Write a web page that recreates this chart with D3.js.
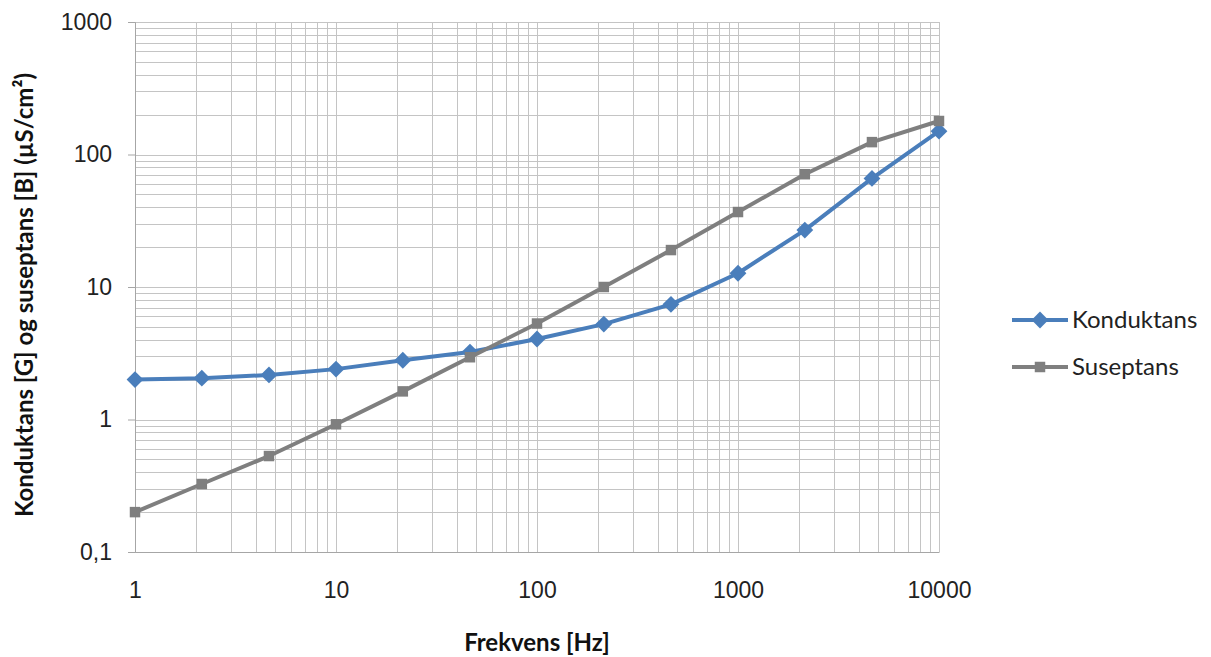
<!DOCTYPE html>
<html>
<head>
  <meta charset="utf-8">
  <title>Konduktans og suseptans</title>
  <script src="https://d3js.org/d3.v7.min.js"></script>
  <style>
    body { margin: 0; background: #fff; font-family: Lato, "Open Sans", sans-serif; }
    .grid line { stroke: #c4c4c4; stroke-width: 1; shape-rendering: crispEdges; }
    .tick text { fill: #222; font-size: 23px; }
    .axis-title { font-weight: bold; font-size: 24px; fill: #111; }
    .legend text { font-size: 24px; fill: #222; }
  </style>
</head>
<body>
  <svg id="chart" width="1211" height="657"></svg>

  <script>
    // frequencies in Hz (1/3 decade steps)
    const freq = [1, 2.15, 4.64, 10, 21.5, 46.4, 100, 215, 464, 1000, 2150, 4640, 10000];
    const konduktans = [2.0, 2.05, 2.17, 2.4, 2.8, 3.23, 4.05, 5.25, 7.4, 12.7, 26.9, 66, 150];
    const suseptans = [0.2, 0.326, 0.53, 0.92, 1.63, 2.95, 5.3, 10, 19, 36.8, 71, 124, 179];
    const xTicks = [1, 10, 100, 1000, 10000];
    const yTicks = [0.1, 1, 10, 100, 1000];
    const yTickLabels = ["0,1", "1", "10", "100", "1000"];

    const series = [
      { name: "Konduktans", values: konduktans, color: "#4a7ebb", marker: "diamond" },
      { name: "Suseptans", values: suseptans, color: "#7f7f7f", marker: "square" }
    ];

    const svg = d3.select("#chart");
    const margin = { left: 135, top: 22, right: 272, bottom: 105 };
    const width = 1211 - margin.left - margin.right;
    const height = 657 - margin.top - margin.bottom;

    const x = d3.scaleLog().domain([1, 10000]).range([0, width]);
    const y = d3.scaleLog().domain([0.1, 1000]).range([height, 0]);

    const g = svg.append("g").attr("transform", `translate(${margin.left},${margin.top})`);

    // all gridlines, major and minor
    const minor = (lo, hi) => {
      const out = [];
      for (let d = lo; d < hi; d *= 10) for (let k = 1; k <= 10; k++) out.push(d * k);
      return Array.from(new Set(out.map(v => +v.toPrecision(6))));
    };

    const grid = g.append("g").attr("class", "grid");
    grid.selectAll("line.v")
      .data(minor(1, 10000))
      .join("line")
      .attr("x1", d => Math.round(x(d)) + 0.5).attr("x2", d => Math.round(x(d)) + 0.5)
      .attr("y1", 0).attr("y2", height);
    grid.selectAll("line.h")
      .data(minor(0.1, 1000))
      .join("line")
      .attr("x1", 0).attr("x2", width)
      .attr("y1", d => Math.round(y(d)) + 0.5).attr("y2", d => Math.round(y(d)) + 0.5);

    // axes
    const yAxis = g.append("g")
      .call(d3.axisLeft(y).tickValues(yTicks).tickFormat((d, i) => yTickLabels[i]).tickSize(7).tickPadding(16));
    yAxis.select(".domain").attr("stroke", "#a6a6a6");
    yAxis.selectAll(".tick line").attr("stroke", "#a6a6a6");

    const xAxis = g.append("g")
      .attr("transform", `translate(0,${height})`)
      .call(d3.axisBottom(x).tickValues(xTicks).tickFormat(d3.format("d")).tickSize(0).tickPadding(30));
    xAxis.select(".domain").attr("stroke", "#a6a6a6");

    // series
    const line = d3.line().x((d, i) => x(freq[i])).y(d => y(d));
    const diamond = d3.symbol().type(d3.symbolDiamond2).size(180);
    const square = d3.symbol().type(d3.symbolSquare).size(110);

    series.forEach(s => {
      g.append("path")
        .attr("d", line(s.values))
        .attr("fill", "none")
        .attr("stroke", s.color)
        .attr("stroke-width", 4)
        .attr("stroke-linejoin", "round");
      g.append("g").selectAll("path")
        .data(s.values)
        .join("path")
        .attr("transform", (d, i) => `translate(${x(freq[i])},${y(d)})`)
        .attr("d", s.marker === "diamond" ? diamond : square)
        .attr("fill", s.color);
    });

    // axis titles
    svg.append("text")
      .attr("class", "axis-title")
      .attr("transform", `translate(33,${margin.top + height / 2 + 8}) rotate(-90)`)
      .attr("text-anchor", "middle")
      .text("Konduktans [G] og suseptans [B] (µS/cm²)");
    svg.append("text")
      .attr("class", "axis-title")
      .attr("x", margin.left + width / 2)
      .attr("y", 651)
      .attr("text-anchor", "middle")
      .text("Frekvens [Hz]");

    // legend
    const legend = svg.append("g").attr("class", "legend").attr("transform", "translate(1012,320)");
    series.forEach((s, i) => {
      const row = legend.append("g").attr("transform", `translate(0,${i * 47})`);
      row.append("line").attr("x1", 0).attr("x2", 56).attr("stroke", s.color).attr("stroke-width", 4);
      row.append("path")
        .attr("transform", "translate(28,0)")
        .attr("d", s.marker === "diamond" ? diamond : square)
        .attr("fill", s.color);
      row.append("text").attr("x", 60).attr("dy", "0.35em").text(s.name);
    });
  </script>
</body>
</html>
